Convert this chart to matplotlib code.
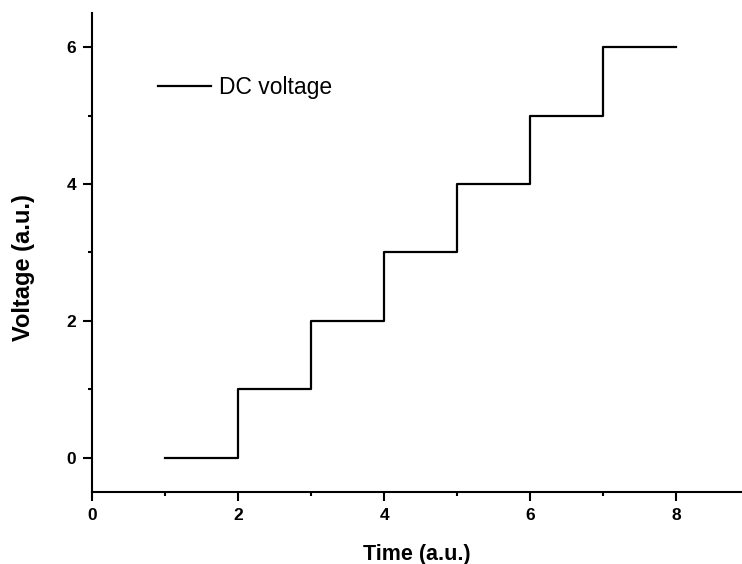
import matplotlib.pyplot as plt
from matplotlib.ticker import MultipleLocator

plt.rcParams['font.family'] = ['Liberation Sans', 'DejaVu Sans']

time = [1, 2, 3, 4, 5, 6, 7, 8]
voltage = [0, 1, 2, 3, 4, 5, 6, 6]


def main():
    fig = plt.figure(figsize=(7.42, 5.64), dpi=100)
    ax = fig.add_axes([92 / 742, 1 - 491.7 / 564, 650 / 742, (491.7 - 13) / 564])

    ax.plot(time, voltage, drawstyle='steps-post', color='black', lw=1.6, label='DC voltage')

    ax.set_xlim(0, 8.9)
    ax.set_ylim(-0.5, 6.5)
    ax.xaxis.set_major_locator(MultipleLocator(2))
    ax.xaxis.set_minor_locator(MultipleLocator(1))
    ax.yaxis.set_major_locator(MultipleLocator(2))
    ax.yaxis.set_minor_locator(MultipleLocator(1))

    for side in ['top', 'right']:
        ax.spines[side].set_visible(False)
    for side in ['left', 'bottom']:
        ax.spines[side].set_linewidth(1.5)

    ax.tick_params(which='major', length=6.5, width=1.5, labelsize=12.5, pad=5)
    ax.tick_params(which='minor', length=3, width=1.5)
    for lab in ax.get_xticklabels() + ax.get_yticklabels():
        lab.set_fontweight('bold')

    ax.set_xlabel('Time (a.u.)', fontsize=15.5, fontweight='bold', labelpad=15)
    ax.set_ylabel('Voltage (a.u.)', fontsize=17, fontweight='bold', va='center')
    ax.yaxis.set_label_coords(-0.105, 0.469)

    ax.legend(loc='upper left', bbox_to_anchor=(0.1015, 0.869), frameon=False,
              fontsize=16.5, handlelength=2.3, handletextpad=0.35, borderpad=0,
              borderaxespad=0)

    fig.savefig('out.png', dpi=100)


if __name__ == '__main__':
    main()
